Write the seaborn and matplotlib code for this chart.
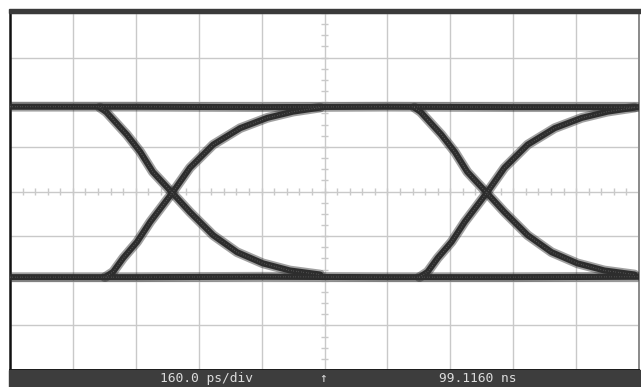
#Eye diagram as shown on a sampling scope screen (160 ps/div).
import numpy as np
import pandas as pd
import matplotlib
matplotlib.use("Agg")
import matplotlib.pyplot as plt
from matplotlib.patches import Rectangle
import seaborn as sns

# === Values (x in divisions, y in divisions from centre) ===
level_t = [0.0, 2.0, 4.0, 6.0, 8.0, 10.0]
high_v = [1.90, 1.90, 1.89, 1.90, 1.89, 1.89]
low_v = [-1.92, -1.92, -1.91, -1.92, -1.92, -1.91]

fall_t = [1.43, 1.53, 1.64, 1.86, 2.07, 2.27, 2.58, 2.86, 3.23, 3.61, 4.02, 4.45, 4.93]
fall_v = [1.88, 1.78, 1.61, 1.27, 0.89, 0.44, -0.03, -0.46, -0.98, -1.36, -1.61, -1.77, -1.86]

rise_t = [1.51, 1.64, 1.80, 2.02, 2.23, 2.58, 2.86, 3.23, 3.66, 4.09, 4.50, 4.93]
rise_v = [-1.92, -1.80, -1.49, -1.13, -0.68, -0.03, 0.53, 1.05, 1.42, 1.65, 1.79, 1.88]

eye_shift = [0.0, 5.0]   # second eye starts one UI (5 div) later

time_scale = "160.0 ps/div"
time_pos = "99.1160 ns"

trace_color = "#2d2d2d"
grid_color = "#c9c9c9"

# build one long table of traces
rows = []
rows.append(pd.DataFrame({"t": level_t, "v": high_v, "trace": "high"}))
rows.append(pd.DataFrame({"t": level_t, "v": low_v, "trace": "low"}))
for i, s in enumerate(eye_shift):
    rows.append(pd.DataFrame({"t": np.array(fall_t) + s, "v": fall_v, "trace": f"fall{i}"}))
    rows.append(pd.DataFrame({"t": np.array(rise_t) + s, "v": rise_v, "trace": f"rise{i}"}))
traces = pd.concat(rows, ignore_index=True)

sns.set_style("white")
fig = plt.figure(figsize=(6.41, 3.87), dpi=100)
W, H = 641, 387
ax = fig.add_axes([10 / W, 17 / H, 629 / W, 357 / H])

ax.set_xlim(0, 10)
ax.set_ylim(-4, 4)

# graticule
ax.set_xticks(range(0, 11))
ax.set_yticks(range(-4, 5))
ax.grid(True, color=grid_color, lw=1.0)
ax.tick_params(length=0, labelbottom=False, labelleft=False)
ax.set_axisbelow(True)

# small ticks on the centre cross
minor_x = np.arange(0, 10.01, 0.2)
minor_y = np.arange(-4, 4.01, 0.25)
ax.vlines(minor_x, -0.07, 0.07, color=grid_color, lw=1.0, zorder=1)
ax.hlines(minor_y, 4.95, 5.05, color=grid_color, lw=1.0, zorder=1)

# traces: a soft halo, a dense core and a dotted sparkle to break it up
for name, grp in traces.groupby("trace", sort=False):
    sns.lineplot(data=grp, x="t", y="v", sort=False, estimator=None, ax=ax,
                 color=trace_color, lw=7.0, alpha=0.45, zorder=3)
    sns.lineplot(data=grp, x="t", y="v", sort=False, estimator=None, ax=ax,
                 color=trace_color, lw=4.4, zorder=4)
    sns.lineplot(data=grp, x="t", y="v", sort=False, estimator=None, ax=ax,
                 color="white", lw=0.7, alpha=0.45, ls=(0, (0.4, 2.2)), zorder=5)
ax.set_xlabel("")
ax.set_ylabel("")

for side in ["left", "top", "right", "bottom"]:
    ax.spines[side].set_visible(True)
ax.spines["left"].set_color("#111111")
ax.spines["left"].set_linewidth(1.8)
ax.spines["right"].set_color("#8a8a8a")
ax.spines["right"].set_linewidth(1.4)
ax.spines["bottom"].set_color("#111111")
ax.spines["bottom"].set_linewidth(1.4)
ax.spines["top"].set_visible(False)

# top bezel band and bottom status bar
fig.patches.append(Rectangle((9 / W, (H - 13) / H), 1 - 9 / W, 4 / H,
                             transform=fig.transFigure, color="#3a3a3a", zorder=5))
fig.patches.append(Rectangle((9 / W, 0), 1 - 9 / W, 17 / H,
                             transform=fig.transFigure, color="#3d3d3d", zorder=5))

txt = dict(color="#dcdcdc", fontsize=9.3, family="DejaVu Sans Mono", va="center", zorder=10)
fig.text(206 / W, 8.5 / H, time_scale, ha="center", **txt)
fig.text(323 / W, 8.5 / H, "\u2191", ha="center", **txt)
fig.text(478 / W, 8.5 / H, time_pos, ha="center", **txt)

fig.savefig("out.png", dpi=100)
